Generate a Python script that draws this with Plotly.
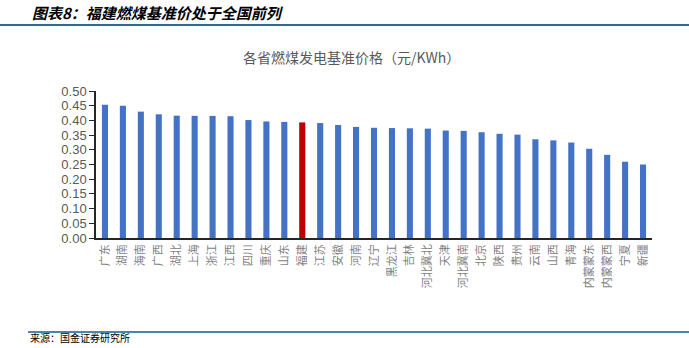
import plotly.graph_objects as go

provinces = ["广东", "湖南", "海南", "广西", "湖北", "上海", "浙江", "江西", "四川", "重庆",
             "山东", "福建", "江苏", "安徽", "河南", "辽宁", "黑龙江", "吉林", "河北冀北", "天津",
             "河北冀南", "北京", "陕西", "贵州", "云南", "山西", "青海", "内蒙蒙东", "内蒙蒙西", "宁夏", "新疆"]
prices = [0.453, 0.450, 0.4298, 0.4207, 0.4161, 0.4155, 0.4153, 0.4143, 0.4012, 0.3964,
          0.3949, 0.3932, 0.391, 0.3844, 0.3779, 0.3749, 0.374, 0.3731, 0.372, 0.3655,
          0.3644, 0.3598, 0.3545, 0.3515, 0.3358, 0.332, 0.3247, 0.3035, 0.2829, 0.2595, 0.25]
highlight = "福建"
y_ticks = [0.0, 0.05, 0.10, 0.15, 0.20, 0.25, 0.30, 0.35, 0.40, 0.45, 0.50]

colors = ["#C00000" if p == highlight else "#4472C4" for p in provinces]

fig = go.Figure(go.Bar(x=provinces, y=prices, marker=dict(color=colors, line=dict(width=0)),
                       width=0.34))

fig.update_layout(
    width=689, height=348,
    margin=dict(l=96, r=37, t=91, b=110),
    paper_bgcolor="white", plot_bgcolor="white",
    showlegend=False,
    font=dict(family="Noto Sans CJK SC", color="#595959"),
    xaxis=dict(showline=True, linecolor="#262626", linewidth=1.5, ticks="",
               tickangle=-90, tickfont=dict(size=11, color="#7F7F7F", family="Noto Sans CJK SC"),
               showgrid=False, range=[-0.5, len(provinces) - 0.5]),
    yaxis=dict(range=[0, 0.5], tickvals=y_ticks, ticktext=[f"{v:.2f}" for v in y_ticks],
               showline=True, linecolor="#262626", linewidth=1.5, ticks="outside", ticklen=5,
               tickcolor="#262626", showgrid=False, zeroline=False,
               tickfont=dict(size=13, color="#595959", family="Liberation Sans")),
    shapes=[
        dict(type="line", xref="paper", yref="paper", x0=-96/556, x1=(689-96)/556,
             y0=1 + (91-25)/147, y1=1 + (91-25)/147, line=dict(color="#2E6B96", width=2)),
        dict(type="line", xref="paper", yref="paper", x0=-68/556, x1=(689-96)/556,
             y0=-(332-238)/147, y1=-(332-238)/147, line=dict(color="#4A86A8", width=2)),
    ],
    annotations=[
        dict(text="<b><i>图表8：福建燃煤基准价处于全国前列</i></b>", xref="paper", yref="paper",
             x=-66/556, y=1 + (91-12)/147, xanchor="left", yanchor="middle", showarrow=False,
             font=dict(size=15, color="#000000", family="Noto Sans CJK SC")),
        dict(text="各省燃煤发电基准价格（元/KWh）", xref="paper", yref="paper",
             x=(351-96)/556, y=1 + (91-57)/147, xanchor="center", yanchor="middle", showarrow=False,
             font=dict(size=14, color="#595959", family="Noto Sans CJK SC")),
        dict(text="来源：国金证券研究所", xref="paper", yref="paper",
             x=-68/556, y=-(347-238)/147, xanchor="left", yanchor="bottom", showarrow=False,
             font=dict(size=10, color="#000000", family="Noto Sans CJK SC")),
    ],
)

fig.write_html("out.html")
